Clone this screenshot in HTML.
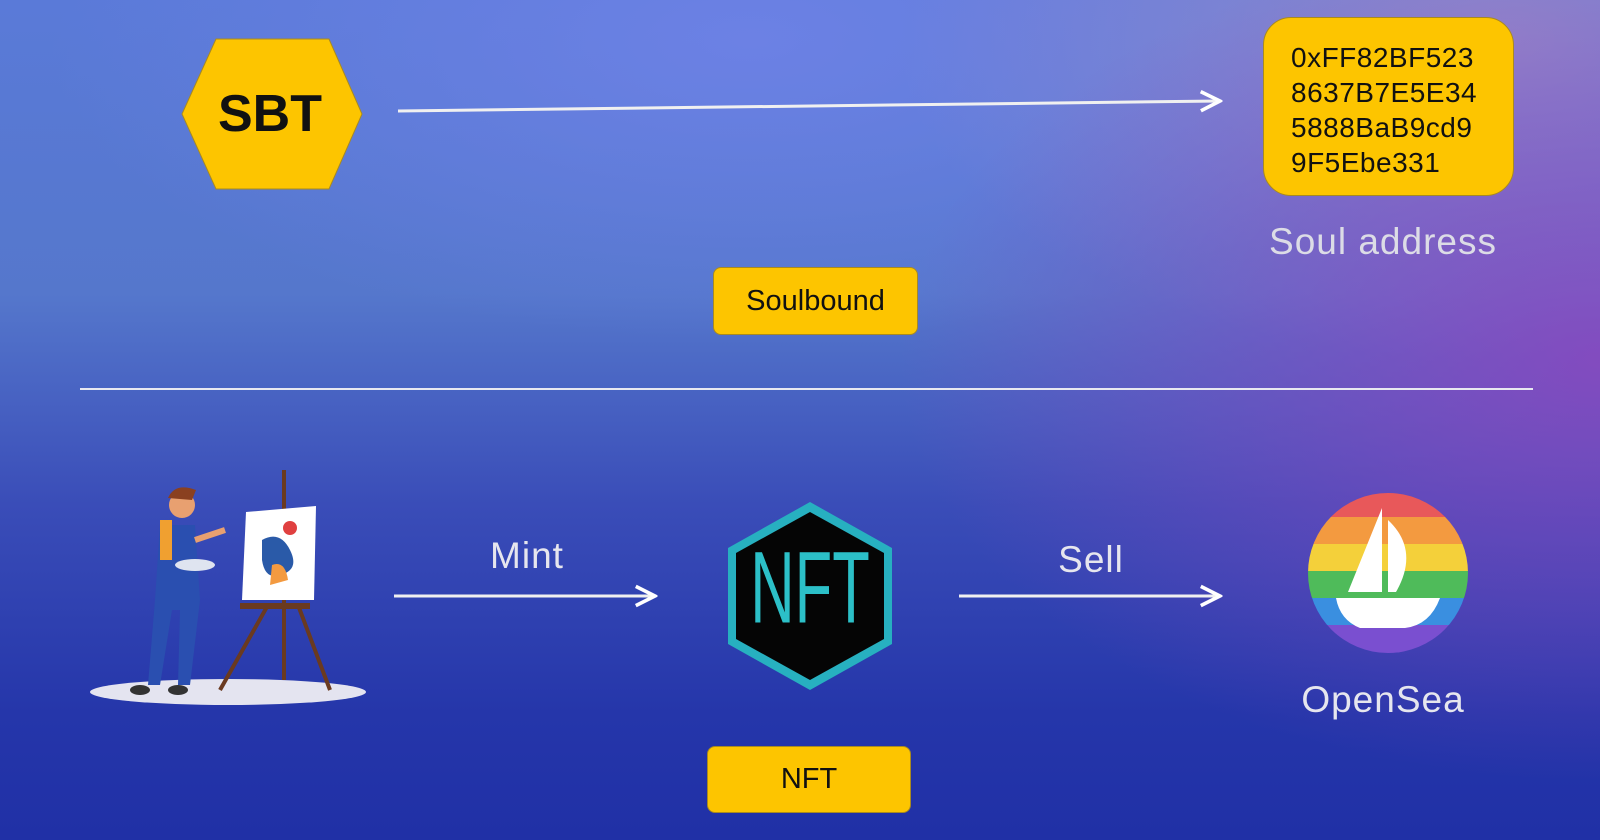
<!DOCTYPE html>
<html><head><meta charset="utf-8"><style>
html,body{margin:0;padding:0}
body{width:1600px;height:840px;position:relative;overflow:hidden;font-family:"Liberation Sans",sans-serif;
background:
radial-gradient(ellipse 700px 420px at 1600px 360px, rgba(140,70,190,0.85), rgba(140,70,190,0) 100%),
radial-gradient(ellipse 600px 320px at 1500px 40px, rgba(160,140,200,0.8), rgba(160,140,200,0) 100%),
radial-gradient(ellipse 700px 300px at 750px 40px, rgba(110,130,230,0.9), rgba(110,130,230,0) 100%),
linear-gradient(180deg,#5a7ad8 0%,#5577cc 35%,#3a4db8 60%,#2536aa 85%,#2030a6 100%);}
.box{position:absolute;background:#fdc500;border:1px solid #a88a20;box-sizing:border-box;color:#111;display:flex;align-items:center;justify-content:center}
.lbl{position:absolute;color:#e6e6ee;font-size:37px;transform:translate(-50%,-50%);white-space:nowrap;letter-spacing:1px}
</style></head><body>
<svg width="1600" height="840" style="position:absolute;left:0;top:0">
<defs><marker id="ah" viewBox="0 0 20 20" refX="18" refY="10" markerWidth="24" markerHeight="24" markerUnits="userSpaceOnUse" orient="auto"><path d="M2,2 L18,10 L2,18" fill="none" stroke="#fff" stroke-width="3"/></marker></defs>
<polygon points="182,114 216,39 329,39 362,114 329,189 216,189" fill="#fdc500" stroke="#a88a20"/>
<text x="270" y="131" font-size="52" font-weight="bold" text-anchor="middle" fill="#111" font-family="Liberation Sans">SBT</text>
<line x1="398" y1="111" x2="1220" y2="101" stroke="#f0f0f0" stroke-width="3" marker-end="url(#ah)"/>
<line x1="80" y1="389" x2="1533" y2="389" stroke="#e8e8f0" stroke-width="2"/>
<line x1="394" y1="596" x2="655" y2="596" stroke="#f0f0f0" stroke-width="3" marker-end="url(#ah)"/>
<line x1="959" y1="596" x2="1220" y2="596" stroke="#f0f0f0" stroke-width="3" marker-end="url(#ah)"/>
<polygon points="810,502 892,548 892,644 810,690 728,644 728,548" fill="#27b0c0"/>
<polygon points="810,512 884,553 884,639 810,680 736,639 736,553" fill="#050505"/>
<text x="810" y="622" font-size="82" text-anchor="middle" fill="#2cc0c8" font-family="Liberation Sans" transform="scale(0.75,1.25) translate(270,-124)">NFT</text>
<clipPath id="cc"><circle cx="1388" cy="573" r="80"/></clipPath>
<g clip-path="url(#cc)">
<rect x="1300" y="490" width="180" height="27" fill="#e8585a"/>
<rect x="1300" y="517" width="180" height="27" fill="#f39a40"/>
<rect x="1300" y="544" width="180" height="27" fill="#f4d03a"/>
<rect x="1300" y="571" width="180" height="27" fill="#4fbb5a"/>
<rect x="1300" y="598" width="180" height="27" fill="#3a8fe0"/>
<rect x="1300" y="625" width="180" height="30" fill="#7a4fd0"/>
</g>
<path d="M1382,508 L1382,592 L1348,592 Z M1388,520 Q1420,550 1396,592 L1388,592 Z M1336,598 L1440,598 Q1430,625 1405,628 L1360,628 Q1340,620 1336,598 Z" fill="#fff"/>
<ellipse cx="228" cy="692" rx="138" ry="13" fill="#e4e4f0"/>
<line x1="284" y1="470" x2="284" y2="680" stroke="#6a3a20" stroke-width="4"/>
<line x1="268" y1="605" x2="220" y2="690" stroke="#6a3a20" stroke-width="4"/>
<line x1="298" y1="605" x2="330" y2="690" stroke="#6a3a20" stroke-width="4"/>
<rect x="240" y="603" width="70" height="6" fill="#6a3a20"/>
<polygon points="246,512 316,506 314,600 242,600" fill="#fff"/>
<path d="M262,540 Q280,530 290,550 Q300,570 280,575 Q265,580 262,560 Z" fill="#2a5aa8"/>
<circle cx="290" cy="528" r="7" fill="#e04040"/>
<path d="M272,565 Q285,560 288,580 L270,585 Z" fill="#f39a40"/>
<circle cx="182" cy="505" r="13" fill="#e8a070"/>
<path d="M168,498 Q175,482 196,490 L192,500 Z" fill="#8a4020"/>
<path d="M160,525 L195,525 L200,600 L190,685 L178,685 L180,610 L172,610 L160,685 L148,685 L155,600 Z" fill="#2a4fb0"/>
<rect x="160" y="520" width="12" height="40" fill="#f0a030"/>
<path d="M195,540 L225,530" stroke="#e8a070" stroke-width="6"/>
<ellipse cx="195" cy="565" rx="20" ry="6" fill="#dfe4f0"/>
<ellipse cx="140" cy="690" rx="10" ry="5" fill="#333"/>
<ellipse cx="178" cy="690" rx="10" ry="5" fill="#333"/>
</svg>
<div class="box" style="left:1263px;top:17px;width:251px;height:179px;border-radius:28px;display:block;padding:22px 0 0 27px;font-size:28px;line-height:35px;letter-spacing:0.5px">0xFF82BF523<br>8637B7E5E34<br>5888BaB9cd9<br>9F5Ebe331</div>
<div class="lbl" style="left:1383px;top:242px;color:#dcdce6">Soul address</div>
<div class="box" style="left:713px;top:267px;width:205px;height:68px;border-radius:8px;font-size:29px">Soulbound</div>
<div class="lbl" style="left:527px;top:556px">Mint</div>
<div class="lbl" style="left:1091px;top:560px">Sell</div>
<div class="lbl" style="left:1383px;top:700px">OpenSea</div>
<div class="box" style="left:707px;top:746px;width:204px;height:67px;border-radius:8px;font-size:29px">NFT</div>
</body></html>
